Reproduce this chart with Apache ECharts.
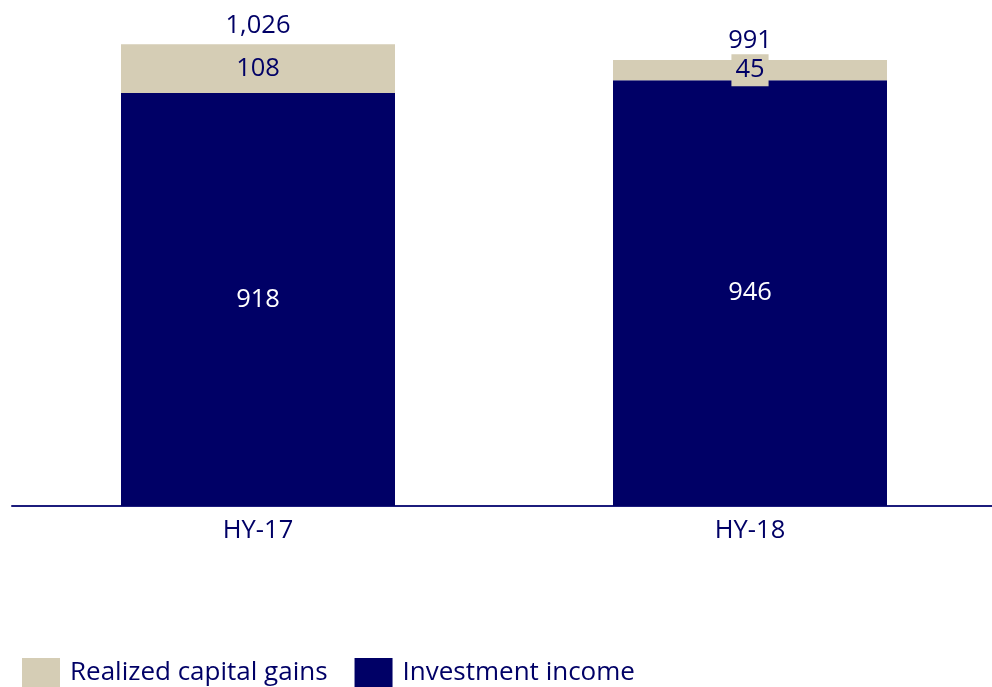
<!DOCTYPE html>
<html>
<head>
<meta charset="utf-8">
<script src="https://cdn.jsdelivr.net/npm/echarts@6/dist/echarts.min.js"></script>
<style>html,body{margin:0;padding:0;background:#fff;}#c{width:992px;height:687px;}</style>
</head>
<body>
<div id="c"></div>
<script>
const categories = ['HY-17', 'HY-18'];
const investmentIncome = [918, 946];
const realizedGains = [108, 45];
const totals = [1026, 991];

const NAVY = '#000066';
const BEIGE = '#d5cdb5';
const FONT = 'Open Sans';
const FS = 25.5;

const chart = echarts.init(document.getElementById('c'));
chart.setOption({
  animation: false,
  textStyle: { fontFamily: FONT },
  grid: { left: 12, width: 984, top: 11, bottom: 181, outerBoundsMode: 'none', containLabel: false },
  legend: {
    data: ['Realized capital gains', 'Investment income'],
    left: 22, top: 658, padding: 0,
    itemWidth: 38, itemHeight: 30, itemGap: 27,
    icon: 'rect',
    textStyle: { color: NAVY, fontSize: 26, fontFamily: FONT, padding: [2, 0, 0, 5] }
  },
  xAxis: {
    type: 'category',
    data: categories,
    axisLine: { lineStyle: { color: '#1c1c7c', width: 2 } },
    axisTick: { show: false },
    axisLabel: { color: NAVY, fontSize: FS, margin: 12, fontFamily: FONT }
  },
  yAxis: {
    type: 'value', min: 0, max: 1100,
    show: false, splitLine: { show: false }
  },
  series: [
    {
      name: 'Investment income', type: 'bar', stack: 's', barWidth: 274,
      itemStyle: { color: NAVY },
      label: { show: true, position: 'inside', color: '#fff', fontSize: FS, fontFamily: FONT },
      data: investmentIncome
    },
    {
      name: 'Realized capital gains', type: 'bar', stack: 's', barWidth: 274,
      itemStyle: { color: BEIGE },
      label: { show: true, position: 'inside', color: NAVY, fontSize: FS, fontFamily: FONT },
      data: realizedGains.map((v, i) => v < 60 ? {
        value: v,
        label: { backgroundColor: BEIGE, padding: [3, 4, 3, 4] }
      } : v)
    },
    {
      name: 'Total', type: 'bar', stack: 's', barWidth: 274,
      itemStyle: { color: 'transparent' },
      label: {
        show: true, position: 'top', distance: 6, color: NAVY, fontSize: FS, fontFamily: FONT,
        formatter: p => totals[p.dataIndex].toLocaleString('en-US')
      },
      data: totals.map(() => 0)
    }
  ]
});
</script>
</body>
</html>
